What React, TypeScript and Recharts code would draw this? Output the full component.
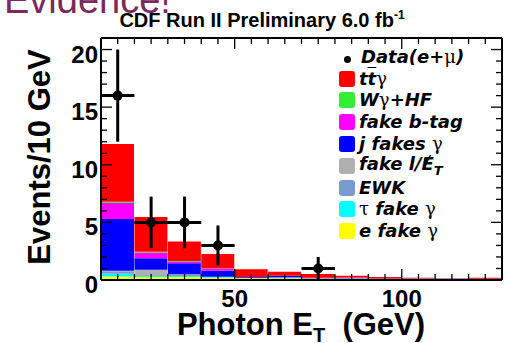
import React from 'react';
import { ComposedChart, Bar, Scatter, ErrorBar, XAxis, YAxis, Legend } from 'recharts';

// 10 GeV bins of photon E_T
const bins = ['10-20', '20-30', '30-40', '40-50', '50-60', '60-70', '70-80', '80-90', '90-100', '100-110', '110-120', '120-130'];

// stacked backgrounds, bottom to top
const eFakeGamma = [0.3, 0.25, 0.25, 0.2, 0.15, 0.15, 0.12, 0.1, 0.08, 0.08, 0.07, 0.07];
const tauFakeGamma = [0.25, 0.12, 0.1, 0.06, 0.03, 0.03, 0.02, 0.02, 0.01, 0.01, 0.01, 0.01];
const ewk = [0.2, 0.06, 0.12, 0.02, 0.02, 0.05, 0.02, 0.03, 0.01, 0.01, 0.02, 0.01];
const fakeLepMet = [0.05, 0.45, 0.03, 0, 0, 0, 0, 0, 0, 0, 0, 0];
const jFakesGamma = [4.5, 1.0, 0.95, 0.52, 0.05, 0.12, 0.03, 0.05, 0.02, 0.02, 0.04, 0.01];
const fakeBtag = [1.4, 0.5, 0.15, 0.2, 0.02, 0.02, 0.01, 0.01, 0.01, 0, 0, 0];
const wGammaHF = [0.1, 0.08, 0.05, 0.02, 0, 0, 0, 0, 0, 0, 0, 0];
const ttGamma = [5.0, 3.0, 1.7, 1.24, 0.66, 0.35, 0.32, 0.15, 0.13, 0.08, 0.02, 0.1];

// data (e+mu)
const dataEt = [15, 25, 35, 45, 75];
const dataEvents = [16, 5, 5, 3, 1];
const dataErr = [4, 2.24, 2.24, 1.73, 1];
const dataBinHalf = [5, 5, 5, 5, 5];

const xTicks = [10, 15, 20, 25, 30, 35, 40, 45, 50, 55, 60, 65, 70, 75, 80, 85, 90, 95, 100, 105, 110, 115, 120, 125, 130];
const yTicks = [0, 1, 2, 3, 4, 5, 6, 7, 8, 9, 10, 11, 12, 13, 14, 15, 16, 17, 18, 19, 20, 21];

const stack = [
  { key: 'eFake', color: '#ffff00', values: eFakeGamma },
  { key: 'tauFake', color: '#00ffff', values: tauFakeGamma },
  { key: 'ewk', color: '#7b9bd0', values: ewk },
  { key: 'fakeLep', color: '#b0b0b0', values: fakeLepMet },
  { key: 'jFakes', color: '#0000ff', values: jFakesGamma },
  { key: 'fakeB', color: '#ff00ff', values: fakeBtag },
  { key: 'wgHF', color: '#00ff00', values: wGammaHF },
  { key: 'ttg', color: '#ff0000', values: ttGamma },
];

const rows = bins.map((bin, i) => {
  const r: any = { bin };
  stack.forEach((s) => { r[s.key] = s.values[i]; });
  return r;
});

const points = dataEt.map((x, i) => ({ x, y: dataEvents[i], ey: dataErr[i], ex: dataBinHalf[i] }));

const FONT = "'Liberation Sans', Arial, Helvetica, sans-serif";
const LEG_FONT = "'DejaVu Sans', Verdana, sans-serif";
const GREEK = "'DejaVu Serif', serif";

const BottomTick = (props: any) => {
  const { x, y, payload } = props;
  const v = payload.value;
  const major = v % 50 === 0;
  return (
    <g>
      <line x1={x} x2={x} y1={y} y2={y - (major ? 11 : 6)} stroke="#000" strokeWidth={1.3} />
      {major && (
        <text x={x} y={y + 27} textAnchor="middle" fontSize={24} fontWeight="bold" fontFamily={FONT} fill="#000">{v}</text>
      )}
    </g>
  );
};

const TopTick = (props: any) => {
  const { x, y, payload } = props;
  const major = payload.value % 50 === 0;
  return <line x1={x} x2={x} y1={y} y2={y + (major ? 11 : 6)} stroke="#000" strokeWidth={1.3} />;
};

const LeftTick = (props: any) => {
  const { x, y, payload } = props;
  const v = payload.value;
  const major = v % 5 === 0;
  return (
    <g>
      <line x1={x} x2={x + (major ? 11 : 6)} y1={y} y2={y} stroke="#000" strokeWidth={1.3} />
      {major && (
        <text x={x - 3} y={y + 13} textAnchor="end" fontSize={24} fontWeight="bold" fontFamily={FONT} fill="#000">{v}</text>
      )}
    </g>
  );
};

const RightTick = (props: any) => {
  const { x, y, payload } = props;
  const major = payload.value % 5 === 0;
  return <line x1={x} x2={x - (major ? 11 : 6)} y1={y} y2={y} stroke="#000" strokeWidth={1.3} />;
};

const DataDot = (props: any) => <circle cx={props.cx} cy={props.cy} r={5} fill="#000" />;

const g = (ch: string) => (
  <span style={{ fontFamily: GREEK, fontStyle: 'normal', fontWeight: 'normal' }}>{ch}</span>
);

const legendItems = [
  { color: '#ff0000', label: <>t<span style={{ textDecoration: 'overline' }}>t</span>{g('γ')}</> },
  { color: '#33ee33', label: <>W{g('γ')}+HF</> },
  { color: '#ff00ff', label: <>fake b-tag</> },
  { color: '#0000ff', label: <>j fakes {g('γ')}</> },
  { color: '#b0b0b0', label: <>fake l/<span style={{ position: 'relative' }}>E<span style={{ position: 'absolute', left: 2, top: 0, fontWeight: 'normal' }}>/</span></span><sub style={{ fontSize: 13 }}>T</sub></> },
  { color: '#7b9bd0', label: <>EWK</> },
  { color: '#00ffff', label: <>{g('τ')} fake {g('γ')}</> },
  { color: '#ffff00', label: <>e fake {g('γ')}</> },
];

const rowStyle: React.CSSProperties = { display: 'flex', alignItems: 'center', height: 21.8, whiteSpace: 'nowrap' };

const renderLegend = () => (
  <div style={{ fontFamily: LEG_FONT, fontWeight: 'bold', fontStyle: 'italic', fontSize: 18, color: '#000', lineHeight: 1 }}>
    <div style={rowStyle}>
      <span style={{ display: 'inline-block', width: 16, marginRight: 6, textAlign: 'center' }}>
        <span style={{ display: 'inline-block', width: 7, height: 7, borderRadius: 4, background: '#000' }} />
      </span>
      Data(e+{g('μ')})
    </div>
    {legendItems.map((it, i) => (
      <div key={i} style={rowStyle}>
        <span style={{ display: 'inline-block', width: 16, height: 16, borderRadius: 3, background: it.color, marginRight: 4 }} />
        <span>{it.label}</span>
      </div>
    ))}
  </div>
);

export default function App() {
  return (
    <div style={{ position: 'absolute', left: 0, top: 0, width: 508, height: 343, background: '#fff' }}>
      <ComposedChart width={508} height={343} data={rows} margin={{ top: 0, right: 0, bottom: 0, left: 0 }} barCategoryGap={0} barGap={0}>
        <XAxis xAxisId="cat" dataKey="bin" hide height={0} />
        <XAxis xAxisId="num" dataKey="x" type="number" domain={[10, 130]} allowDataOverflow ticks={xTicks} interval={0}
          height={63} tickLine={false} tickSize={0} tickMargin={0} tick={<BottomTick />} axisLine={{ stroke: '#000', strokeWidth: 2 }} />
        <XAxis xAxisId="top" orientation="top" dataKey="x" type="number" domain={[10, 130]} allowDataOverflow ticks={xTicks} interval={0}
          height={38} tickLine={false} tickSize={0} tickMargin={0} tick={<TopTick />} axisLine={{ stroke: '#000', strokeWidth: 2 }} />
        <YAxis yAxisId="l" dataKey="y" type="number" domain={[0, 21]} allowDataOverflow ticks={yTicks} interval={0}
          width={101} tickLine={false} tickSize={0} tickMargin={0} tick={<LeftTick />} axisLine={{ stroke: '#000', strokeWidth: 2 }} />
        <YAxis yAxisId="r" orientation="right" dataKey="y" type="number" domain={[0, 21]} allowDataOverflow ticks={yTicks} interval={0}
          width={6} tickLine={false} tickSize={0} tickMargin={0} tick={<RightTick />} axisLine={{ stroke: '#000', strokeWidth: 2 }} />
        {stack.map((s) => (
          <Bar key={s.key} dataKey={s.key} stackId="bkg" xAxisId="cat" yAxisId="l" fill={s.color} stroke="none" isAnimationActive={false} />
        ))}
        <Scatter xAxisId="num" yAxisId="l" data={points} shape={<DataDot />} isAnimationActive={false}>
          <ErrorBar dataKey="ey" direction="y" width={0} strokeWidth={3} stroke="#000" />
          <ErrorBar dataKey="ex" direction="x" width={0} strokeWidth={3} stroke="#000" />
        </Scatter>
        <Scatter xAxisId="top" yAxisId="r" data={points} shape={() => <g />} isAnimationActive={false} legendType="none" />
        <Legend content={renderLegend} layout="vertical" align="center" verticalAlign="middle"
          wrapperStyle={{ left: 339, top: 46, width: 169 }} />
        <text x={4} y={13} fontSize={38} fontFamily={FONT} fill="#7b2a5b">Evidence!</text>
        <text x={262} y={27} textAnchor="middle" fontSize={20} fontWeight="bold" fontFamily={FONT} fill="#000">
          CDF Run II Preliminary 6.0 fb<tspan fontSize={12} dy={-8}>-1</tspan>
        </text>
        <text x={50} y={157} transform="rotate(-90 50 157)" textAnchor="middle" fontSize={31} fontWeight="bold" fontFamily={FONT} fill="#000">
          Events/10 GeV
        </text>
        <text x={301} y={335} textAnchor="middle" fontSize={31} fontWeight="bold" fontFamily={FONT} fill="#000">
          Photon E<tspan fontSize={20} dy={7}>T</tspan><tspan dy={-7}>{'\u00a0\u00a0'}(GeV)</tspan>
        </text>
      </ComposedChart>
    </div>
  );
}
